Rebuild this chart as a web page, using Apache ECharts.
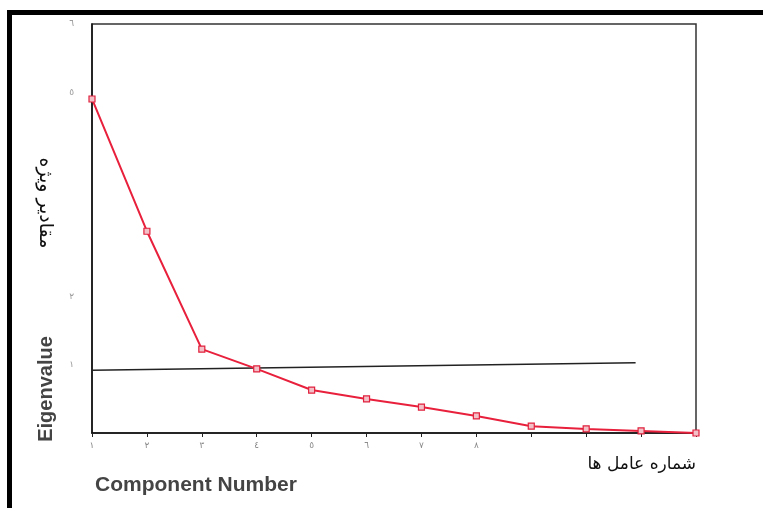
<!DOCTYPE html>
<html>
<head>
<meta charset="utf-8">
<script src="https://cdn.jsdelivr.net/npm/echarts@6/dist/echarts.min.js"></script>
<style>html,body{margin:0;padding:0;background:#fff;}#c{width:763px;height:508px;}</style>
</head>
<body>
<div id="c"></div>
<script>
// Component numbers and eigenvalues
const components = [1, 2, 3, 4, 5, 6, 7, 8, 9, 10, 11, 12];
const eigenvalues = [4.90, 2.96, 1.23, 0.94, 0.63, 0.50, 0.38, 0.25, 0.10, 0.06, 0.03, 0.00];
// Reference line (Eigenvalue = 1, slightly slanted in the scan)
const refLineX = [1, 10.9];
const refLineY = [0.92, 1.03];
// Tick labels (Arabic-Indic digits)
const xTickValues = [1, 2, 3, 4, 5, 6, 7, 8];
const xTickLabels = ['١', '٢', '٣', '٤', '٥', '٦', '٧', '٨'];
const yTickValues = [1, 2, 5, 6];
const yTickLabels = ['١', '٢', '٥', '٦'];

const chart = echarts.init(document.getElementById('c'));
chart.setOption({
  backgroundColor: '#ffffff',
  animation: false,
  grid: { left: 92, right: 67, top: 24, bottom: 75, show: true, borderColor: '#333', borderWidth: 1.5, backgroundColor: 'transparent' },
  xAxis: {
    type: 'value', min: 1, max: 12, interval: 1,
    axisLine: { show: true, onZero: false, lineStyle: { color: '#111', width: 1.5 } },
    axisTick: { show: true, length: 4, lineStyle: { color: '#222', width: 1 } },
    splitLine: { show: false },
    axisLabel: {
      margin: 8, color: '#888', fontSize: 9, fontFamily: 'DejaVu Sans',
      formatter: v => { const i = xTickValues.indexOf(v); return i >= 0 ? xTickLabels[i] : ''; }
    }
  },
  yAxis: {
    type: 'value', min: 0, max: 6, interval: 1,
    axisLine: { show: true, lineStyle: { color: '#111', width: 1.5 } },
    axisTick: { show: false },
    splitLine: { show: false },
    axisLabel: {
      margin: 18, color: '#999', fontSize: 9, fontFamily: 'DejaVu Sans',
      formatter: v => { const i = yTickValues.indexOf(v); return i >= 0 ? yTickLabels[i] : ''; }
    }
  },
  series: [
    {
      type: 'line',
      data: refLineX.map((x, i) => [x, refLineY[i]]),
      symbol: 'none',
      lineStyle: { color: '#222', width: 1.5 },
      z: 2
    },
    {
      type: 'line',
      data: components.map((c, i) => [c, eigenvalues[i]]),
      symbol: 'rect', symbolSize: 6,
      itemStyle: { color: '#f4c0c8', borderColor: '#e0203c', borderWidth: 1.2 },
      lineStyle: { color: '#e8203c', width: 2 },
      z: 3
    }
  ],
  graphic: [
    { type: 'rect', shape: { x: 7, y: 10, width: 756, height: 5 }, style: { fill: '#000' }, z: 100 },
    { type: 'rect', shape: { x: 7, y: 10, width: 5, height: 498 }, style: { fill: '#000' }, z: 100 },
    { type: 'text', x: 45, y: 203, rotation: -Math.PI / 2,
      style: { text: 'مقادیر ویژه', fill: '#111', fontSize: 19, fontFamily: 'DejaVu Sans', align: 'center', verticalAlign: 'middle' } },
    { type: 'text', x: 46, y: 389, rotation: Math.PI / 2,
      style: { text: 'Eigenvalue', fill: '#444', fontSize: 20, fontWeight: 'bold', fontFamily: 'Liberation Sans', align: 'center', verticalAlign: 'middle' } },
    { type: 'text', x: 95, y: 485,
      style: { text: 'Component Number', fill: '#444', fontSize: 21, fontWeight: 'bold', fontFamily: 'Liberation Sans', align: 'left', verticalAlign: 'middle' } },
    { type: 'text', x: 696, y: 465,
      style: { text: 'شماره عامل ها', fill: '#111', fontSize: 17, fontFamily: 'DejaVu Sans', align: 'right', verticalAlign: 'middle' } }
  ]
});
</script>
</body>
</html>
